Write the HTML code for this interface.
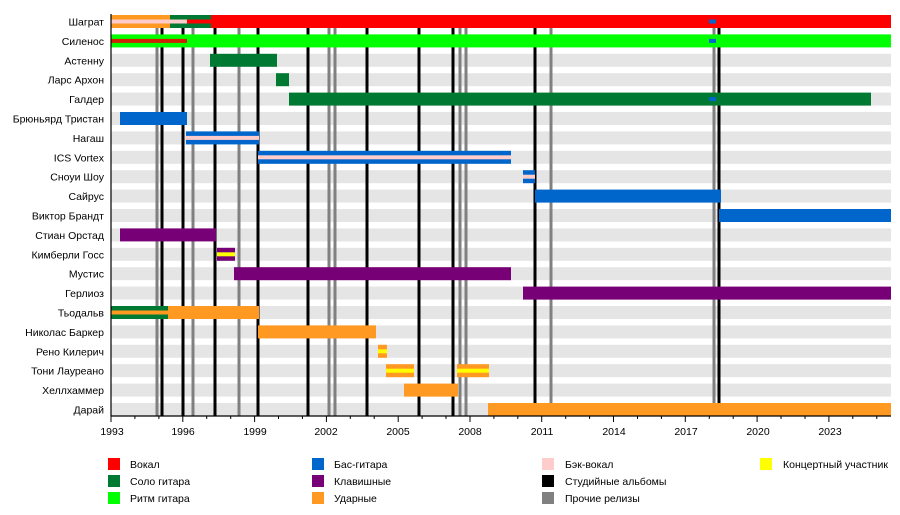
<!DOCTYPE html>
<html><head><meta charset="utf-8"><style>
html,body{margin:0;padding:0;background:#fff;}
svg{display:block;font-family:"Liberation Sans",sans-serif;}
</style></head><body>
<svg width="900" height="515" viewBox="0 0 900 515" xmlns="http://www.w3.org/2000/svg">
<g fill="#e5e5e5">
<rect x="111" y="15" width="780" height="13"/><rect x="111" y="34.4" width="780" height="13"/><rect x="111" y="53.8" width="780" height="13"/><rect x="111" y="73.2" width="780" height="13"/><rect x="111" y="92.6" width="780" height="13"/><rect x="111" y="112" width="780" height="13"/><rect x="111" y="131.4" width="780" height="13"/><rect x="111" y="150.8" width="780" height="13"/><rect x="111" y="170.2" width="780" height="13"/><rect x="111" y="189.6" width="780" height="13"/><rect x="111" y="209" width="780" height="13"/><rect x="111" y="228.4" width="780" height="13"/><rect x="111" y="247.8" width="780" height="13"/><rect x="111" y="267.2" width="780" height="13"/><rect x="111" y="286.6" width="780" height="13"/><rect x="111" y="306" width="780" height="13"/><rect x="111" y="325.4" width="780" height="13"/><rect x="111" y="344.8" width="780" height="13"/><rect x="111" y="364.2" width="780" height="13"/><rect x="111" y="383.6" width="780" height="13"/><rect x="111" y="403" width="780" height="13"/>
</g>
<g stroke="#808080" stroke-width="3">
<line x1="157" y1="15" x2="157" y2="416"/><line x1="193" y1="15" x2="193" y2="416"/><line x1="239" y1="15" x2="239" y2="416"/><line x1="329" y1="15" x2="329" y2="416"/><line x1="335" y1="15" x2="335" y2="416"/><line x1="460" y1="15" x2="460" y2="416"/><line x1="466" y1="15" x2="466" y2="416"/><line x1="551" y1="15" x2="551" y2="416"/><line x1="714" y1="15" x2="714" y2="416"/>
</g>
<g stroke="#000" stroke-width="3">
<line x1="162" y1="15" x2="162" y2="416"/><line x1="183" y1="15" x2="183" y2="416"/><line x1="215" y1="15" x2="215" y2="416"/><line x1="258" y1="15" x2="258" y2="416"/><line x1="308" y1="15" x2="308" y2="416"/><line x1="367" y1="15" x2="367" y2="416"/><line x1="419" y1="15" x2="419" y2="416"/><line x1="453" y1="15" x2="453" y2="416"/><line x1="535" y1="15" x2="535" y2="416"/><line x1="719" y1="15" x2="719" y2="416"/>
</g>
<!-- bars -->
<rect x="111" y="15" width="59" height="13" fill="#ff9922"/><rect x="111" y="19.5" width="59" height="4" fill="#ffcccc"/>
<rect x="170" y="15" width="41" height="13" fill="#007a33"/><rect x="170" y="19.5" width="17" height="4" fill="#ffcccc"/><rect x="187" y="19.5" width="24" height="4" fill="#ff0000"/>
<rect x="211" y="15" width="680" height="13" fill="#ff0000"/>
<rect x="111" y="34.4" width="780" height="13" fill="#00ff00"/><rect x="111" y="38.9" width="76" height="4" fill="#cc2200"/>
<rect x="210" y="53.8" width="67" height="13" fill="#007a33"/>
<rect x="276" y="73.2" width="13" height="13" fill="#007a33"/>
<rect x="289" y="92.6" width="582" height="13" fill="#007a33"/>
<rect x="709" y="19.5" width="7" height="4" fill="#0066cc"/><rect x="709" y="38.9" width="7" height="4" fill="#0066cc"/><rect x="709" y="97.1" width="7" height="4" fill="#0066cc"/>
<rect x="120" y="112" width="67" height="13" fill="#0066cc"/>
<rect x="186" y="131.4" width="73" height="13" fill="#0066cc"/><rect x="186" y="135.9" width="73" height="4" fill="#ffcccc"/>
<rect x="258" y="150.8" width="253" height="13" fill="#0066cc"/><rect x="258" y="155.3" width="253" height="4" fill="#ffcccc"/>
<rect x="523" y="170.2" width="12" height="13" fill="#0066cc"/><rect x="523" y="174.7" width="12" height="4" fill="#ffcccc"/>
<rect x="535" y="189.6" width="186" height="13" fill="#0066cc"/>
<rect x="719" y="209" width="172" height="13" fill="#0066cc"/>
<rect x="120" y="228.4" width="96" height="13" fill="#770077"/>
<rect x="217" y="247.8" width="18" height="13" fill="#770077"/><rect x="217" y="252.3" width="18" height="4" fill="#ffff00"/>
<rect x="234" y="267.2" width="277" height="13" fill="#770077"/>
<rect x="523" y="286.6" width="368" height="13" fill="#770077"/>
<rect x="111" y="306" width="57" height="13" fill="#007a33"/><rect x="111" y="310.5" width="57" height="4" fill="#ff9922"/>
<rect x="168" y="306" width="91" height="13" fill="#ff9922"/>
<rect x="258" y="325.4" width="118" height="13" fill="#ff9922"/>
<rect x="378" y="344.8" width="9" height="13" fill="#ff9922"/><rect x="378" y="349.3" width="9" height="4" fill="#ffff00"/>
<rect x="386" y="364.2" width="28" height="13" fill="#ff9922"/><rect x="386" y="368.7" width="28" height="4" fill="#ffff00"/>
<rect x="457" y="364.2" width="32" height="13" fill="#ff9922"/><rect x="457" y="368.7" width="32" height="4" fill="#ffff00"/>
<rect x="404" y="383.6" width="54" height="13" fill="#ff9922"/>
<rect x="488" y="403" width="403" height="13" fill="#ff9922"/>
<!-- axes -->
<line x1="111" y1="14" x2="111" y2="416" stroke="#000" stroke-width="1.2"/>
<line x1="111" y1="416" x2="891" y2="416" stroke="#000" stroke-width="1.2"/>
<g stroke="#000" stroke-width="1">
<line x1="111" y1="416" x2="111" y2="422"/><line x1="134.9" y1="416" x2="134.9" y2="419"/><line x1="158.9" y1="416" x2="158.9" y2="419"/><line x1="182.8" y1="416" x2="182.8" y2="422"/><line x1="206.7" y1="416" x2="206.7" y2="419"/><line x1="230.7" y1="416" x2="230.7" y2="419"/><line x1="254.6" y1="416" x2="254.6" y2="422"/><line x1="278.5" y1="416" x2="278.5" y2="419"/><line x1="302.4" y1="416" x2="302.4" y2="419"/><line x1="326.4" y1="416" x2="326.4" y2="422"/><line x1="350.3" y1="416" x2="350.3" y2="419"/><line x1="374.2" y1="416" x2="374.2" y2="419"/><line x1="398.2" y1="416" x2="398.2" y2="422"/><line x1="422.1" y1="416" x2="422.1" y2="419"/><line x1="446" y1="416" x2="446" y2="419"/><line x1="470" y1="416" x2="470" y2="422"/><line x1="493.9" y1="416" x2="493.9" y2="419"/><line x1="517.8" y1="416" x2="517.8" y2="419"/><line x1="541.7" y1="416" x2="541.7" y2="422"/><line x1="565.7" y1="416" x2="565.7" y2="419"/><line x1="589.6" y1="416" x2="589.6" y2="419"/><line x1="613.5" y1="416" x2="613.5" y2="422"/><line x1="637.5" y1="416" x2="637.5" y2="419"/><line x1="661.4" y1="416" x2="661.4" y2="419"/><line x1="685.3" y1="416" x2="685.3" y2="422"/><line x1="709.3" y1="416" x2="709.3" y2="419"/><line x1="733.2" y1="416" x2="733.2" y2="419"/><line x1="757.1" y1="416" x2="757.1" y2="422"/><line x1="781" y1="416" x2="781" y2="419"/><line x1="805" y1="416" x2="805" y2="419"/><line x1="828.9" y1="416" x2="828.9" y2="422"/><line x1="852.8" y1="416" x2="852.8" y2="419"/><line x1="876.8" y1="416" x2="876.8" y2="419"/>
</g>
<g font-size="10.5" text-anchor="middle" fill="#000">
<text x="112" y="435">1993</text><text x="183" y="435">1996</text><text x="255" y="435">1999</text><text x="326" y="435">2002</text><text x="398" y="435">2005</text><text x="470" y="435">2008</text><text x="542" y="435">2011</text><text x="614" y="435">2014</text><text x="686" y="435">2017</text><text x="758" y="435">2020</text><text x="830" y="435">2023</text>
</g>
<g font-size="10.5" text-anchor="end" fill="#000">
<text x="104" y="25.5">Шаграт</text><text x="104" y="44.9">Силенос</text><text x="104" y="64.3">Астенну</text><text x="104" y="83.7">Ларс Архон</text><text x="104" y="103.1">Галдер</text><text x="104" y="122.5">Брюньярд Тристан</text><text x="104" y="141.9">Нагаш</text><text x="104" y="161.3">ICS Vortex</text><text x="104" y="180.7">Сноуи Шоу</text><text x="104" y="200.1">Сайрус</text><text x="104" y="219.5">Виктор Брандт</text><text x="104" y="238.9">Стиан Орстад</text><text x="104" y="258.3">Кимберли Госс</text><text x="104" y="277.7">Мустис</text><text x="104" y="297.1">Герлиоз</text><text x="104" y="316.5">Тьодальв</text><text x="104" y="335.9">Николас Баркер</text><text x="104" y="355.3">Рено Килерич</text><text x="104" y="374.7">Тони Лауреано</text><text x="104" y="394.1">Хеллхаммер</text><text x="104" y="413.5">Дарай</text>
</g>
<!-- legend -->
<g font-size="10.5" fill="#000">
<rect x="108" y="458" width="12" height="12" fill="#ff0000"/><text x="130" y="468">Вокал</text>
<rect x="108" y="475" width="12" height="12" fill="#007a33"/><text x="130" y="485">Соло гитара</text>
<rect x="108" y="492" width="12" height="12" fill="#00ff00"/><text x="130" y="502">Ритм гитара</text>
<rect x="312" y="458" width="12" height="12" fill="#0066cc"/><text x="334" y="468">Бас-гитара</text>
<rect x="312" y="475" width="12" height="12" fill="#770077"/><text x="334" y="485">Клавишные</text>
<rect x="312" y="492" width="12" height="12" fill="#ff9922"/><text x="334" y="502">Ударные</text>
<rect x="542" y="458" width="12" height="12" fill="#ffcccc"/><text x="565" y="468">Бэк-вокал</text>
<rect x="542" y="475" width="12" height="12" fill="#000"/><text x="565" y="485">Студийные альбомы</text>
<rect x="542" y="492" width="12" height="12" fill="#808080"/><text x="565" y="502">Прочие релизы</text>
<rect x="760" y="458" width="12" height="12" fill="#ffff00"/><text x="783" y="468">Концертный участник</text>
</g>
</svg>
</body></html>
